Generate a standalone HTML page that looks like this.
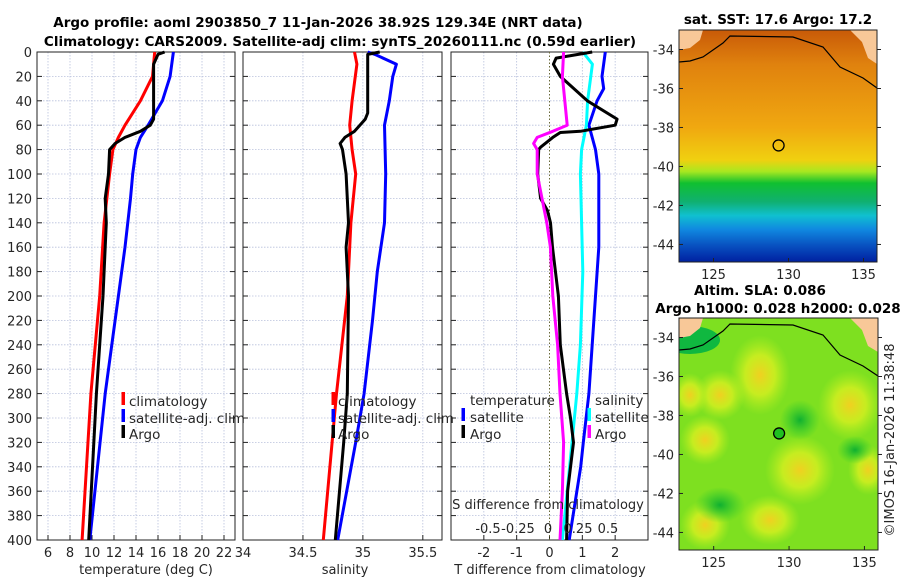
<!DOCTYPE html>
<html><head><meta charset="utf-8">
<style>
body{margin:0;background:#fff;}
svg{display:block;font-family:"DejaVu Sans","Liberation Sans",sans-serif;}
.tk{font-size:13px;fill:#262626;}
.ttl{font-size:13.5px;font-weight:bold;fill:#000;}
.lg{font-size:13.5px;fill:#262626;}
</style></head>
<body>
<svg id="chart" width="900" height="580" viewBox="0 0 900 580">
<text class="ttl" x="318" y="27" text-anchor="middle">Argo profile: aoml 2903850_7 11-Jan-2026 38.92S 129.34E (NRT data)</text>
<text class="ttl" x="340" y="46" text-anchor="middle">Climatology: CARS2009. Satellite-adj clim: synTS_20260111.nc (0.59d earlier)</text>
<g id="p1"></g>
<g id="p2"></g>
<g id="p3"></g>
<defs>
<linearGradient id="sstg" x1="0" y1="0" x2="0" y2="1">
<stop offset="0" stop-color="#c85a08"/><stop offset="0.15" stop-color="#e0820e"/>
<stop offset="0.42" stop-color="#f0a810"/><stop offset="0.56" stop-color="#f0d010"/>
<stop offset="0.61" stop-color="#a8e820"/><stop offset="0.66" stop-color="#10c030"/>
<stop offset="0.74" stop-color="#10b070"/><stop offset="0.8" stop-color="#10c0d0"/>
<stop offset="0.86" stop-color="#1088e0"/><stop offset="0.93" stop-color="#0850c0"/>
<stop offset="1" stop-color="#0020a0"/></linearGradient>
<radialGradient id="blob"><stop offset="0" stop-color="#f0d020"/><stop offset="0.5" stop-color="#d8f020" stop-opacity="0.8"/><stop offset="1" stop-color="#b8f020" stop-opacity="0"/></radialGradient>
<radialGradient id="dblob"><stop offset="0" stop-color="#10b030"/><stop offset="1" stop-color="#20c830" stop-opacity="0"/></radialGradient>
<clipPath id="c1"><rect x="679" y="30" width="198" height="232"/></clipPath>
<clipPath id="c2"><rect x="679" y="318" width="199" height="232"/></clipPath>
</defs>
<g id="map1" clip-path="url(#c1)">
<rect x="679" y="30" width="198" height="232" fill="url(#sstg)"/>
<path d="M679,30 L703,30 L700,40 L690,48 L679,50 Z" fill="#f8c898"/>
<path d="M850,30 L877,30 L877,64 L868,58 L862,42 Z" fill="#f8c898"/>
<path d="M679,62 L690,61 L703,57 L723,43 L730,36 L793,37 L823,47 L840,67 L863,78 L877,88" fill="none" stroke="#000" stroke-width="1.2"/>
</g>
<rect x="679" y="30" width="198" height="232" fill="none" stroke="#222"/>
<g id="map2" clip-path="url(#c2)">
<rect x="679" y="318" width="199" height="232" fill="#7ee020"/>
<ellipse cx="690" cy="340" rx="30" ry="14" fill="#10b840"/>
<ellipse cx="760" cy="375" rx="30" ry="40" fill="url(#blob)"/>
<ellipse cx="720" cy="395" rx="25" ry="25" fill="url(#blob)"/>
<ellipse cx="690" cy="395" rx="18" ry="22" fill="url(#blob)"/>
<ellipse cx="850" cy="405" rx="32" ry="35" fill="url(#blob)"/>
<ellipse cx="800" cy="470" rx="35" ry="35" fill="url(#blob)"/>
<ellipse cx="868" cy="470" rx="20" ry="25" fill="url(#blob)"/>
<ellipse cx="705" cy="440" rx="25" ry="25" fill="url(#blob)"/>
<ellipse cx="770" cy="520" rx="30" ry="25" fill="url(#blob)"/>
<ellipse cx="705" cy="525" rx="25" ry="25" fill="url(#blob)"/>
<ellipse cx="720" cy="505" rx="25" ry="18" fill="url(#dblob)"/>
<ellipse cx="800" cy="420" rx="20" ry="20" fill="url(#dblob)"/>
<ellipse cx="855" cy="450" rx="18" ry="14" fill="url(#dblob)"/>
<path d="M679,318 L703,318 L700,328 L690,336 L679,338 Z" fill="#f8c898"/>
<path d="M850,318 L878,318 L878,352 L868,346 L862,330 Z" fill="#f8c898"/>
<path d="M679,350 L690,349 L703,345 L723,331 L730,324 L793,325 L823,335 L840,355 L863,366 L878,376" fill="none" stroke="#000" stroke-width="1.2"/>
</g>
<rect x="679" y="318" width="199" height="232" fill="none" stroke="#222"/>
<text class="ttl" x="778" y="24" text-anchor="middle">sat. SST: 17.6 Argo: 17.2</text>
<text class="ttl" x="760" y="295" text-anchor="middle">Altim. SLA: 0.086</text>
<text class="ttl" x="778" y="313" text-anchor="middle">Argo h1000: 0.028 h2000: 0.028</text>
<text class="tk" transform="translate(894,440) rotate(-90)" text-anchor="middle">©IMOS 16-Jan-2026 11:38:48</text>
</svg>
<script>
// ---- profile data (depth in m) ----
const tClimD=[0,20,40,60,70,80,100,140,200,280,400];
const tClimV=[15.7,15.5,14.4,13.0,12.4,11.9,11.6,11.1,10.7,9.9,9.1];
const tSatD=[0,20,40,60,70,80,100,120,160,200,280,400];
const tSatV=[17.4,17.1,16.4,15.1,14.4,14.0,13.7,13.5,13.0,12.4,11.2,9.8];
const tArgoD=[0,2,10,55,60,65,70,75,80,100,120,140,160,200,280,400];
const tArgoV=[16.6,16.0,15.6,15.6,15.3,14.4,13.0,12.1,11.6,11.5,11.2,11.3,11.2,11.0,10.4,9.7];
const sClimD=[0,10,40,60,80,100,140,200,280,400];
const sClimV=[34.93,34.95,34.91,34.89,34.91,34.94,34.90,34.87,34.78,34.67];
const sSatD=[0,2,10,20,40,60,100,140,180,220,280,320,400];
const sSatV=[35.04,35.1,35.28,35.25,35.22,35.18,35.19,35.18,35.12,35.08,35.01,34.94,34.79];
const sArgoD=[0,2,10,50,55,65,70,75,80,100,120,140,160,200,280,320,400];
const sArgoV=[35.14,35.04,35.04,35.04,35.02,34.93,34.85,34.81,34.83,34.86,34.87,34.88,34.86,34.88,34.87,34.84,34.77];
const dTSatD=[0,20,30,40,60,80,100,160,200,280,320,340,400];
const dTSatV=[1.7,1.6,1.65,1.45,1.2,1.4,1.5,1.5,1.4,1.2,1.03,0.95,0.6];
const dTArgoD=[0,5,10,20,40,55,60,65,66,70,78,80,100,120,130,140,160,200,240,280,300,320,360,400];
const dTArgoV=[1.3,0.2,0.12,0.33,1.15,2.06,2.0,0.94,0.33,0.1,-0.27,-0.33,-0.36,-0.27,-0.06,0.03,0.09,0.27,0.33,0.52,0.64,0.73,0.55,0.52];
const dSSatD=[0,10,40,60,80,100,140,180,240,280,340,400];
const dSSatV=[0.29,0.37,0.33,0.32,0.28,0.27,0.28,0.29,0.27,0.24,0.18,0.12];
const dSArgoD=[0,20,40,60,65,70,75,80,100,120,140,160,200,240,280,320,360,400];
const dSArgoV=[0.13,0.12,0.14,0.16,0.04,-0.09,-0.12,-0.09,-0.09,-0.05,-0.01,0.02,0.04,0.08,0.10,0.13,0.12,0.10];
const depthTicks=[0,20,40,60,80,100,120,140,160,180,200,220,240,260,280,300,320,340,360,380,400];
const tTicks=[6,8,10,12,14,16,18,20,22];
const sTicks=[34,34.5,35,35.5];
const dTTicks=[-2,-1,0,1,2];
const dSTicks=[-0.5,-0.25,0,0.25,0.5];
const latTicks=[-34,-36,-38,-40,-42,-44];
const lonTicks=[125,130,135];
const argoPos=[129.34,-38.92];

const NS='http://www.w3.org/2000/svg';
const svg=document.getElementById('chart');
function mk(tag,parent,attrs){const e=document.createElementNS(NS,tag);for(const k in attrs)e.setAttribute(k,attrs[k]);parent.appendChild(e);return e;}
const Y0=52,Y1=540;
const yD=d=>Y0+(d/400)*(Y1-Y0);
function panel(g,x0,x1,lo,hi,ticks,gridTicks,showY){
  const xs=v=>x0+(v-lo)/(hi-lo)*(x1-x0);
  gridTicks.forEach(v=>{const l=mk('line',g,{x1:xs(v),x2:xs(v),y1:Y0,y2:Y1,stroke:'#b8c0dc','stroke-width':0.8,'stroke-dasharray':'1.5,1.5'});
    });
  depthTicks.forEach(d=>{const l=mk('line',g,{x1:x0,x2:x1,y1:yD(d),y2:yD(d),stroke:'#b8c0dc','stroke-width':0.8,'stroke-dasharray':'1.5,1.5'});
    
    const t1=mk('line',g,{x1:x0,x2:x0+5,y1:yD(d),y2:yD(d),stroke:'#222'});
    const t2=mk('line',g,{x1:x1-5,x2:x1,y1:yD(d),y2:yD(d),stroke:'#222'});
    if(showY){const t=mk('text',g,{x:x0-5,y:yD(d)+5,'text-anchor':'end',class:'tk'});t.textContent=d;
      }});
  ticks.forEach(v=>{const t=mk('line',g,{x1:xs(v),x2:xs(v),y1:Y1,y2:Y1-5,stroke:'#222'});
    const l=mk('text',g,{x:xs(v),y:557,'text-anchor':'middle',class:'tk'});l.textContent=v;
    });
  const r=mk('rect',g,{x:x0,y:Y0,width:x1-x0,height:Y1-Y0,fill:'none',stroke:'#222'});
  
  return xs;
}
function line(g,xs,D,V,col,name){
  const p=mk('polyline',g,{points:D.map((d,i)=>xs(V[i]).toFixed(1)+','+yD(d).toFixed(1)).join(' '),fill:'none',stroke:col,'stroke-width':3,'stroke-linejoin':'round'});
  
}
function txt(g,x,y,s,cls,name,anchor){const t=mk('text',g,{x:x,y:y,class:cls,'text-anchor':anchor||'start'});t.textContent=s;
  return t;}
function lgMark(g,x,y,col){const m=mk('rect',g,{x:x-1.5,y:y-13,width:3.5,height:13,fill:col});
  }

// panel 1
const g1=document.getElementById('p1');
const x1=panel(g1,37,235,5,23,tTicks,tTicks,true);
line(g1,x1,tClimD,tClimV,'#ff0000','temp-climatology-line');
line(g1,x1,tSatD,tSatV,'#0000ff','temp-satellite-line');
line(g1,x1,tArgoD,tArgoV,'#000000','temp-argo-line');
txt(g1,146,574,'temperature (deg C)','tk','x-axis-title-temperature','middle');
[['climatology','#ff0000',406],['satellite-adj. clim','#0000ff',423],['Argo','#000',439]].forEach(r=>{lgMark(g1,123,r[2]-1,r[1]);txt(g1,129,r[2],r[0],'lg','legend-entry');});

// panel 2
const g2=document.getElementById('p2');
const x2=panel(g2,243,442,34,35.66,sTicks,[34.5,35,35.5],false);
line(g2,x2,sClimD,sClimV,'#ff0000','sal-climatology-line');
line(g2,x2,sSatD,sSatV,'#0000ff','sal-satellite-line');
line(g2,x2,sArgoD,sArgoV,'#000000','sal-argo-line');
txt(g2,345,574,'salinity','tk','x-axis-title-salinity','middle');
[['climatology','#ff0000',406],['satellite-adj. clim','#0000ff',423],['Argo','#000',439]].forEach(r=>{lgMark(g2,333,r[2]-1,r[1]);txt(g2,338,r[2],r[0],'lg','legend-entry');});

// panel 3
const g3=document.getElementById('p3');
const x3=panel(g3,451,648,-3,3,dTTicks,[-2,-1,1,2],false);
const zl=mk('line',g3,{x1:x3(0),x2:x3(0),y1:Y0,y2:Y1,stroke:'#6a6a3a','stroke-width':1,'stroke-dasharray':'1.5,2'});

const xsS=v=>548+v*120;
line(g3,x3,dTSatD,dTSatV,'#0000ff','tdiff-satellite-line');
line(g3,xsS,dSSatD,dSSatV,'#00ffff','sdiff-satellite-line');
line(g3,x3,dTArgoD,dTArgoV,'#000000','tdiff-argo-line');
line(g3,xsS,dSArgoD,dSArgoV,'#ff00ff','sdiff-argo-line');
txt(g3,550,574,'T difference from climatology','tk','x-axis-title-tdiff','middle');
txt(g3,548,509,'S difference from climatology','tk','s-axis-title','middle');
dSTicks.forEach(v=>txt(g3,xsS(v),533,String(v),'tk','s-tick-label','middle'));
txt(g3,470,405,'temperature','lg','legend-heading-temperature');
txt(g3,595,405,'salinity','lg','legend-heading-salinity');
[['satellite','#0000ff',422],['Argo','#000',439]].forEach(r=>{lgMark(g3,463,r[2]-1,r[1]);txt(g3,470,r[2],r[0],'lg','legend-entry');});
[['satellite','#00ffff',422],['Argo','#ff00ff',439]].forEach(r=>{lgMark(g3,589,r[2]-1,r[1]);txt(g3,595,r[2],r[0],'lg','legend-entry');});

// maps
function mapAxes(top,bottom,x0,x1,mt){
  const lon=v=>x0+(v-122.7)/(135.9-122.7)*(x1-x0);
  const lat=v=>top+(mt-v)/(mt-(mt-11.9))*(bottom-top);
  latTicks.forEach(v=>{const t=txt(svg,x0-5,lat(v)+5,String(v),'tk','lat-tick-label','end');
    const a=mk('line',svg,{x1:x0,x2:x0+4,y1:lat(v),y2:lat(v),stroke:'#222'});
    const b=mk('line',svg,{x1:x1,x2:x1+4,y1:lat(v),y2:lat(v),stroke:'#222'});});
  lonTicks.forEach(v=>{txt(svg,lon(v),bottom+17,String(v),'tk','lon-tick-label','middle');
    const a=mk('line',svg,{x1:lon(v),x2:lon(v),y1:bottom,y2:bottom-4,stroke:'#222'});});
  return [lon,lat];
}
const [lonA,latA]=mapAxes(30,262,679,877,-33.0);
const c1=mk('circle',svg,{cx:lonA(argoPos[0]),cy:latA(argoPos[1]),r:5.5,fill:'none',stroke:'#000','stroke-width':1.3});

const [lonB,latB]=mapAxes(318,550,679,878,-33.0);
const c2=mk('circle',svg,{cx:lonB(argoPos[0]),cy:latB(argoPos[1]),r:5.5,fill:'#20c020',stroke:'#000','stroke-width':1.3});

</script>
</body></html>
